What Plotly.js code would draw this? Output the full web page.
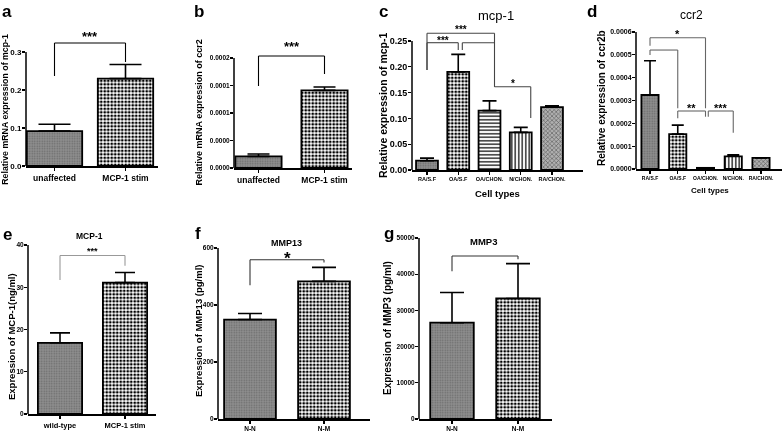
<!DOCTYPE html>
<html><head><meta charset="utf-8">
<script src="https://cdn.plot.ly/plotly-3.0.1.min.js"></script>
<style>html,body{margin:0;padding:0;background:#fff}#chart{width:784px;height:434px}.main-svg{will-change:transform}</style>
</head><body><div id="chart"></div>
<script>
// ---------------- DATA ----------------
// a: relative mRNA expression of mcp-1
const aCats = ['unaffected', 'MCP-1 stim'];
const aMean = [0.092, 0.230];
const aErr  = [0.018, 0.037];
const aTickVals = [0, 0.1, 0.2, 0.3];
const aTickText = ['0.0', '0.1', '0.2', '0.3'];
// b: relative mRNA expression of ccr2
const bCats = ['unaffected', 'MCP-1 stim'];
const bMean = [0.0000212, 0.0001412];
const bErr  = [0.0000043, 0.0000061];
const bTickVals = [0, 0.00005, 0.0001, 0.00015, 0.0002];
const bTickText = ['0.0000', '0.0000', '0.0001', '0.0001', '0.0002'];
// c: mcp-1 by cell type
const cCats = ['RA/S.F', 'OA/S.F', 'OA/CHON.', 'N/CHON.', 'RA/CHON.'];
const cMean = [0.018, 0.190, 0.115, 0.073, 0.122];
const cErr  = [0.005, 0.034, 0.019, 0.0097, 0.0025];
const cTickVals = [0, 0.05, 0.10, 0.15, 0.20, 0.25];
const cTickText = ['0.00', '0.05', '0.10', '0.15', '0.20', '0.25'];
// d: ccr2 by cell type
const dCats = ['RA/S.F', 'OA/S.F', 'OA/CHON.', 'N/CHON.', 'RA/CHON.'];
const dMean = [0.000324, 0.000153, 0.000005, 0.0000557, 0.0000484];
const dErr  = [0.000150, 0.000039, 0, 0.000006, 0];
const dTickVals = [0, 0.0001, 0.0002, 0.0003, 0.0004, 0.0005, 0.0006];
const dTickText = ['0.0000', '0.0001', '0.0002', '0.0003', '0.0004', '0.0005', '0.0006'];
// e: MCP-1 (ng/ml)
const eCats = ['wild-type', 'MCP-1 stim'];
const eMean = [16.85, 31.1];
const eErr  = [2.35, 2.4];
const eTickVals = [0, 10, 20, 30, 40];
const eTickText = ['0', '10', '20', '30', '40'];
// f: MMP13 (pg/ml)
const fCats = ['N-N', 'N-M'];
const fMean = [349, 483];
const fErr  = [21, 49];
const fTickVals = [0, 200, 400, 600];
const fTickText = ['0', '200', '400', '600'];
// g: MMP3 (pg/ml)
const gCats = ['N-N', 'N-M'];
const gMean = [26600, 33300];
const gErr  = [8350, 9630];
const gTickVals = [0, 10000, 20000, 30000, 40000, 50000];
const gTickText = ['0', '10000', '20000', '30000', '40000', '50000'];

// ---------------- STYLE / LAYOUT ----------------
const W = 784, H = 434;
const FONT = '"Liberation Sans", Arial, sans-serif';
const GRAY  = {shape: '.', fg: '#6a6a6a', bg: '#8f8f8f', size: 2.5, sol: 0.3};
const CHECK = {shape: '.', fg: '#000000', bg: '#ffffff', size: 3.5, sol: 0.5};
const HLINE = {shape: '-', fg: '#000000', bg: '#ffffff', size: 3.5, sol: 0.35};
const VLINE = {shape: '|', fg: '#000000', bg: '#ffffff', size: 3.5, sol: 0.35};
const DIAG  = {shape: 'x', fg: '#555555', bg: '#b0b0b0', size: 3, sol: 0.35};

const panels = [
  {letter: 'a', letterPos: [7, 0], cats: aCats, mean: aMean, err: aErr, tv: aTickVals, tt: aTickText,
   fills: [GRAY, CHECK], box: {x0: 26, x1: 158, c0: 54.5, c1: 125.5, y0: 166, yt: 52, top: 30},
   tmax: 0.3, barW: 0.78, cap: 16, yfs: 8, xfs: 8.5,
   ytitle: 'Relative mRNA expression of mcp-1', ytPos: [4.8, 109], ytSize: 8.8,
   brColor: '#000', starSize: 13,
   brackets: [{x0: 0, x1: 1, y: 0.3237, d0: 0.2368, d1: 0.2737, label: '***', ls: 6}]},
  {letter: 'b', letterPos: [199, 0], cats: bCats, mean: bMean, err: bErr, tv: bTickVals, tt: bTickText,
   fills: [GRAY, CHECK], box: {x0: 234, x1: 352, c0: 258.5, c1: 324.5, y0: 168, yt: 58, top: 35},
   tmax: 0.0002, barW: 0.7, cap: 11, yfs: 6.5, xfs: 8.5,
   ytitle: 'Relative mRNA expression of ccr2', ytPos: [198.5, 113], ytSize: 9,
   brColor: '#000', starSize: 13,
   brackets: [{x0: 0, x1: 1, y: 0.0002036, d0: 0.0001491, d1: 0.0001709, label: '***', ls: 10}]},
  {letter: 'c', letterPos: [383, 0], cats: cCats, mean: cMean, err: cErr, tv: cTickVals, tt: cTickText,
   fills: [GRAY, CHECK, HLINE, VLINE, DIAG], box: {x0: 412, x1: 583, c0: 427, c1: 552, y0: 170, yt: 41, top: 27},
   tmax: 0.25, barW: 0.7, cap: 7, yfs: 9, xfs: 5.5,
   ytitle: 'Relative expression of mcp-1', ytPos: [383, 106], ytSize: 10.5,
   title: 'mcp-1', titlePos: [496, 16], titleSize: 13, titleBold: false,
   xtitle: 'Cell types', xtPos: [497, 193], xtSize: 9.5,
   brColor: '#444', starSize: 10,
   brackets: [
     {x0: 0, x1: 2.16, y: 0.265, d0: 0.194, d1: 0.161, label: '***', ls: 4},
     {x0: 0, x1: 1.0, y: 0.2467, d0: 0.194, d1: 0.2326, label: '***', ls: 2},
     {x0: 1.13, x1: 2.16, y: 0.2467, d0: 0.2326, d1: null, label: '', ls: 0},
     {x0: 2.16, x1: 3.32, y: 0.1614, d0: null, d1: 0.1008, label: '*', ls: 3}]},
  {letter: 'd', letterPos: [592, 0], cats: dCats, mean: dMean, err: dErr, tv: dTickVals, tt: dTickText,
   fills: [GRAY, CHECK, GRAY, VLINE, DIAG], box: {x0: 636, x1: 782, c0: 650, c1: 761, y0: 169, yt: 32, top: 30},
   tmax: 0.0006, barW: 0.62, cap: 6, yfs: 7, xfs: 5,
   ytitle: 'Relative expression of ccr2b', ytPos: [601, 98], ytSize: 10,
   title: 'ccr2', titlePos: [691, 15], titleSize: 12, titleBold: false,
   xtitle: 'Cell types', xtPos: [710, 190], xtSize: 8,
   brColor: '#666', starSize: 11,
   brackets: [
     {x0: 0, x1: 2, y: 0.000575, d0: 0.00054, d1: 0.000266, label: '*', ls: 3.5},
     {x0: 0, x1: 1, y: 0.000521, d0: 0.000499, d1: 0.000266, label: '', ls: 0},
     {x0: 1, x1: 2, y: 0.000254, d0: 0.000222, d1: 0.000229, label: '**', ls: 3.5},
     {x0: 2.1, x1: 3, y: 0.000254, d0: 0.000229, d1: 0.000159, label: '***', ls: 3.5}]},
  {letter: 'e', letterPos: [7, 223], cats: eCats, mean: eMean, err: eErr, tv: eTickVals, tt: eTickText,
   fills: [GRAY, CHECK], box: {x0: 28, x1: 156, c0: 60, c1: 125, y0: 414, yt: 245, top: 240},
   tmax: 40, barW: 0.68, cap: 10, yfs: 6.5, xfs: 7.5,
   ytitle: 'Expression of MCP-1(ng/ml)', ytPos: [11, 337], ytSize: 9.5,
   title: 'MCP-1', titlePos: [89, 236], titleSize: 8.5, titleBold: true,
   brColor: '#999', starSize: 9,
   brackets: [{x0: 0, x1: 1, y: 37.5, d0: 31.7, d1: 35.1, label: '***', ls: 4.5}]},
  {letter: 'f', letterPos: [198, 222], cats: fCats, mean: fMean, err: fErr, tv: fTickVals, tt: fTickText,
   fills: [GRAY, CHECK], box: {x0: 218, x1: 370, c0: 250, c1: 324, y0: 419, yt: 248, top: 244},
   tmax: 600, barW: 0.7, cap: 12, yfs: 6.5, xfs: 6.5,
   ytitle: 'Expression of MMP13 (pg/ml)', ytPos: [198, 330], ytSize: 9.5,
   title: 'MMP13', titlePos: [286, 243], titleSize: 9, titleBold: true,
   brColor: '#333', starSize: 17,
   brackets: [{x0: 0, x1: 1, y: 559, d0: 469, d1: 549, label: '*', ls: 1.5}]},
  {letter: 'g', letterPos: [389, 222], cats: gCats, mean: gMean, err: gErr, tv: gTickVals, tt: gTickText,
   fills: [GRAY, CHECK], box: {x0: 419, x1: 552, c0: 452, c1: 518, y0: 419, yt: 238, top: 234},
   tmax: 50000, barW: 0.66, cap: 12, yfs: 6.5, xfs: 6.5,
   ytitle: 'Expression of MMP3 (pg/ml)', ytPos: [387, 328], ytSize: 10,
   title: 'MMP3', titlePos: [483, 241], titleSize: 9.5, titleBold: true,
   brColor: '#333', starSize: 12,
   brackets: [{x0: 0, x1: 1, y: 45046, d0: 40826, d1: 44128, label: '', ls: 0}]}
];

// ---------------- BUILD ----------------
const px = x => x / W;
const py = y => 1 - y / H;
const traces = [], shapes = [], annotations = [];
const layout = {
  width: W, height: H, margin: {l: 0, r: 0, t: 0, b: 0},
  paper_bgcolor: '#fff', plot_bgcolor: 'rgba(0,0,0,0)', showlegend: false,
  font: {family: FONT, color: '#000'}
};

function txt(text, x, y, size, bold, extra) {
  annotations.push(Object.assign({
    text: text, xref: 'paper', yref: 'paper', x: px(x), y: py(y),
    xanchor: 'center', yanchor: 'middle', showarrow: false,
    font: {family: FONT, size: size, color: '#000', weight: bold ? 'bold' : 'normal'}
  }, extra || {}));
}

panels.forEach((p, i) => {
  const s = i === 0 ? '' : String(i + 1);
  const xa = 'x' + s, ya = 'y' + s;
  const b = p.box;
  const step = (b.c1 - b.c0) / (p.cats.length - 1);
  const ytop = p.tmax * (b.y0 - b.top) / (b.y0 - b.yt);
  layout['xaxis' + s] = {
    domain: [px(b.x0), px(b.x1)], range: [(b.x0 - b.c0) / step, (b.x1 - b.c0) / step],
    anchor: ya, type: 'category', color: '#000', showline: true, linecolor: '#000', linewidth: 1.5,
    ticks: 'outside', ticklen: 3, tickwidth: 1.2, tickcolor: '#000', tickangle: 0,
    showgrid: false, zeroline: false, fixedrange: true,
    tickfont: {family: FONT, size: p.xfs, color: '#000', weight: 'bold'}
  };
  layout['yaxis' + s] = {
    domain: [py(b.y0), py(b.top)], range: [0, ytop], anchor: xa, color: '#000',
    showline: false, ticks: 'outside', ticklen: 3, tickwidth: 1.2, tickcolor: '#000',
    ticklabelstandoff: -1,
    tickvals: p.tv, ticktext: p.tt, showgrid: false, zeroline: false, fixedrange: true,
    tickfont: {family: FONT, size: p.yfs, color: '#000', weight: 'bold'}
  };
  traces.push({
    type: 'bar', x: p.cats, y: p.mean, xaxis: xa, yaxis: ya, width: p.barW,
    marker: {
      line: {color: '#000', width: 1.8},
      pattern: {
        shape: p.fills.map(f => f.shape), fgcolor: p.fills.map(f => f.fg),
        bgcolor: p.fills.map(f => f.bg), size: p.fills.map(f => f.size),
        solidity: p.fills.map(f => f.sol), fillmode: 'replace'
      }
    },
    error_y: {type: 'data', symmetric: false, array: p.err, arrayminus: p.err.map(() => 0),
              color: '#000', thickness: 1.6, width: p.cap},
    hoverinfo: 'skip'
  });
  // y-axis line up to the last tick
  shapes.push({type: 'line', xref: xa + ' domain', yref: ya, x0: 0, x1: 0, y0: 0, y1: p.tmax,
               line: {color: '#000', width: 1.5}});
  // significance brackets
  p.brackets.forEach(br => {
    const ln = {color: p.brColor, width: 1.1};
    shapes.push({type: 'line', xref: xa, yref: ya, x0: br.x0, x1: br.x1, y0: br.y, y1: br.y, line: ln});
    if (br.d0 !== null) shapes.push({type: 'line', xref: xa, yref: ya, x0: br.x0, x1: br.x0, y0: br.y, y1: br.d0, line: ln});
    if (br.d1 !== null) shapes.push({type: 'line', xref: xa, yref: ya, x0: br.x1, x1: br.x1, y0: br.y, y1: br.d1, line: ln});
    if (br.label) {
      annotations.push({text: br.label, xref: xa, yref: ya, x: (br.x0 + br.x1) / 2, y: br.y,
        xanchor: 'center', yanchor: 'middle', yshift: br.ls, showarrow: false,
        font: {family: FONT, size: p.starSize, color: '#000', weight: 'bold'}});
    }
  });
  txt(p.letter, p.letterPos[0], p.letterPos[1], 17, true, {yanchor: 'top'});
  txt(p.ytitle, p.ytPos[0], p.ytPos[1], p.ytSize, true, {textangle: -90});
  if (p.title) txt(p.title, p.titlePos[0], p.titlePos[1], p.titleSize, p.titleBold);
  if (p.xtitle) txt(p.xtitle, p.xtPos[0], p.xtPos[1], p.xtSize, true);
});

layout.shapes = shapes;
layout.annotations = annotations;
Plotly.newPlot('chart', traces, layout, {staticPlot: true, displayModeBar: false});
</script></body></html>
